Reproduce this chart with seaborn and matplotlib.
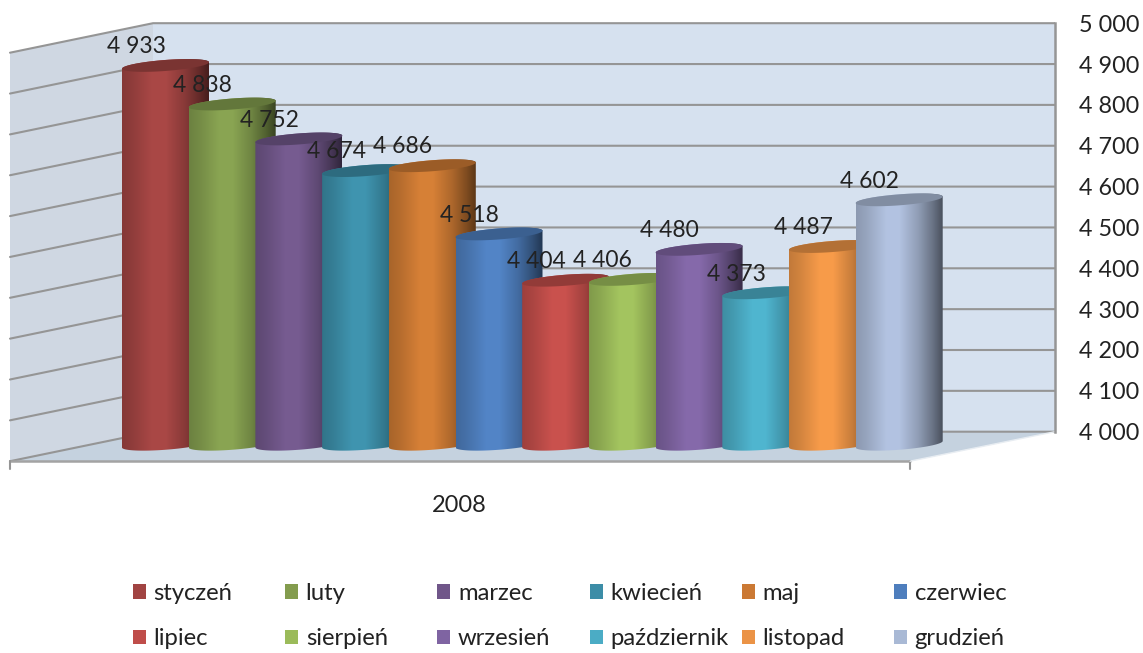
import numpy as np
import pandas as pd
import matplotlib
matplotlib.use('Agg')
import matplotlib.pyplot as plt
import matplotlib.colors as mcolors
from matplotlib.patches import Patch, Polygon, PathPatch
from matplotlib.path import Path
from matplotlib.ticker import FuncFormatter
import seaborn as sns

# ***************************************************

months = ['styczeń', 'luty', 'marzec', 'kwiecień', 'maj', 'czerwiec',
          'lipiec', 'sierpień', 'wrzesień', 'październik', 'listopad', 'grudzień']
values = [4933, 4838, 4752, 4674, 4686, 4518, 4404, 4406, 4480, 4373, 4487, 4602]
colors = ['#af4a48', '#8eaa55', '#7a5e95', '#4199b5', '#dd8438', '#5589cd',
          '#d05450', '#a9cb62', '#8a6db0', '#52bbd6', '#ffa04c', '#b8c9e8']
y_ticks = [4000, 4100, 4200, 4300, 4400, 4500, 4600, 4700, 4800, 4900, 5000]
year_label = '2008'

# ***************************************************

W, H = 1143, 653
BASE = 4000
SLOT = 66.7    # px per bar
BAR_Y = 0.406  # px per unit, front plane
WALL_Y = 0.4085  # px per unit, back wall
DEPTH = 29.5 / WALL_Y

sns.set_theme(style='white')
plt.rcParams['font.family'] = ['Lato', 'DejaVu Sans']
plt.rcParams['text.color'] = '#222222'

fig = plt.figure(figsize=(W / 100, H / 100), dpi=100)


def fmt(v):
    return f'{v:,.0f}'.replace(',', ' ')


# back wall, side wall, floor and value axis ---------------------------
ax_back = fig.add_axes([0, 0, 1055 / W, 1])
ax_back.set_xlim(0, 1055)
ax_back.set_ylim(4000 + (431.7 - H) / WALL_Y, 4000 + 431.7 / WALL_Y)
ax_back.patch.set_alpha(0)

ax_back.add_patch(Polygon([(153, 4000), (1055, 4000), (1055, 5000), (153, 5000)], color='#d6e1ef', lw=0))
ax_back.add_patch(Polygon([(10, 4000 - DEPTH), (153, 4000), (153, 5000), (10, 5000 - DEPTH)], color='#cfd7e2', lw=0))
ax_back.add_patch(Polygon([(10, 4000 - DEPTH), (910, 4000 - DEPTH), (1055, 4000), (153, 4000)], color='#c5d2df', lw=0))

grid_col = '#959595'
for v in y_ticks:
    ax_back.plot([10, 153, 1055], [v - DEPTH, v, v], color=grid_col, lw=1.5, solid_joinstyle='miter')
ax_back.plot([10, 910], [4000 - DEPTH] * 2, color='#a3a3a3', lw=1.8)
for x in [10, 910]:
    ax_back.plot([x, x], [4000 - DEPTH, 4000 - DEPTH - 8 / WALL_Y], color='#959595', lw=1.5)
ax_back.plot([910, 1055], [4000 - DEPTH, 4000], color='#e8edf2', lw=1)

ax_back.set_xticks([])
ax_back.set_yticks(y_ticks)
ax_back.yaxis.set_major_formatter(FuncFormatter(lambda v, p: fmt(v)))
ax_back.yaxis.tick_right()
ax_back.tick_params(axis='y', length=6, width=1.5, color=grid_col, pad=11, labelsize=16.8, labelcolor='#222222')
sns.despine(ax=ax_back, left=True, bottom=True, top=True, right=False)
ax_back.spines['right'].set_color(grid_col)
ax_back.spines['right'].set_linewidth(1.8)
ax_back.spines['right'].set_bounds(4000, 5000)

# cylinders -------------------------------------------------------------
ax = fig.add_axes([0, 0, 1, 1])
df = pd.DataFrame({'month': months, 'value': values})
sns.barplot(data=df, x='month', y='value', hue='month', order=months, hue_order=months,
            palette=colors, width=1, legend=False, ax=ax)

xlim = ((0 - 122) / SLOT - 0.5, (W - 122) / SLOT - 0.5)
ylim = (BASE + (447.5 - H) / BAR_Y, BASE + 447.5 / BAR_Y)

cyl_w = 87 / SLOT
rise = 6.5 / BAR_Y
bulge = 5.5 / BAR_Y
stops = [0, 0.12, 0.35, 0.5, 0.72, 0.88, 1]
mults = [0.76, 0.82, 0.97, 0.97, 0.78, 0.58, 0.4]
cols_x = np.linspace(0, 1, 200)
shade = np.interp(cols_x, stops, mults)


def arc(x0, v, t):
    # sheared ellipse whose left point sits on (x0, v)
    return np.column_stack([x0 + cyl_w / 2 * (1 + np.cos(t)),
                            v + rise / 2 * (1 + np.cos(t)) + bulge * np.sin(t)])


for i, bar in enumerate(ax.patches[:len(months)]):
    bar.set_visible(False)
    x0 = bar.get_x()
    top = bar.get_height()
    rgb = np.array(mcolors.to_rgb(colors[i]))

    upper = arc(x0, top, np.linspace(np.pi, 0, 60))
    lower = arc(x0, BASE, np.linspace(0, -np.pi, 60))
    outline = Path(np.vstack([upper, lower, upper[:1]]))

    img = np.clip(shade[None, :, None] * rgb[None, None, :], 0, 1)
    im = ax.imshow(img, extent=(x0, x0 + cyl_w, BASE - 2 * bulge, top + rise + 2 * bulge),
                   aspect='auto', zorder=3 + i * 0.1, interpolation='bilinear')
    clip = PathPatch(outline, transform=ax.transData, fc='none', ec='none')
    ax.add_patch(clip)
    im.set_clip_path(clip)

    cap = arc(x0, top, np.linspace(0, 2 * np.pi, 120))
    ax.add_patch(Polygon(cap, closed=True, color=rgb * 0.7, lw=0, zorder=3 + i * 0.1 + 0.01))

    ax.annotate(fmt(values[i]), xy=(x0, top), xytext=(14, 22), textcoords='offset pixels',
                ha='center', va='center', fontsize=16.5, zorder=10)

ax.set_xlim(*xlim)
ax.set_ylim(*ylim)
ax.set_axis_off()

ax.text((459 - 122) / SLOT - 0.5, BASE + (447.5 - 505) / BAR_Y, year_label,
        ha='center', va='center', fontsize=17)

# legend, one per column so the columns stay evenly spaced ---------------
handles = [Patch(facecolor=np.array(mcolors.to_rgb(c)) * 0.92, edgecolor='none') for c in colors]
for col in range(6):
    fig.legend([handles[col], handles[col + 6]], [months[col], months[col + 6]],
               loc='upper left', bbox_to_anchor=(133 / W + 152.2 * col / W, 1 - 583 / H),
               frameon=False, borderpad=0, borderaxespad=0,
               fontsize=17.2, handlelength=0.54, handleheight=0.54, handletextpad=0.32, labelspacing=1.02)

fig.savefig('out.png', dpi=100)
